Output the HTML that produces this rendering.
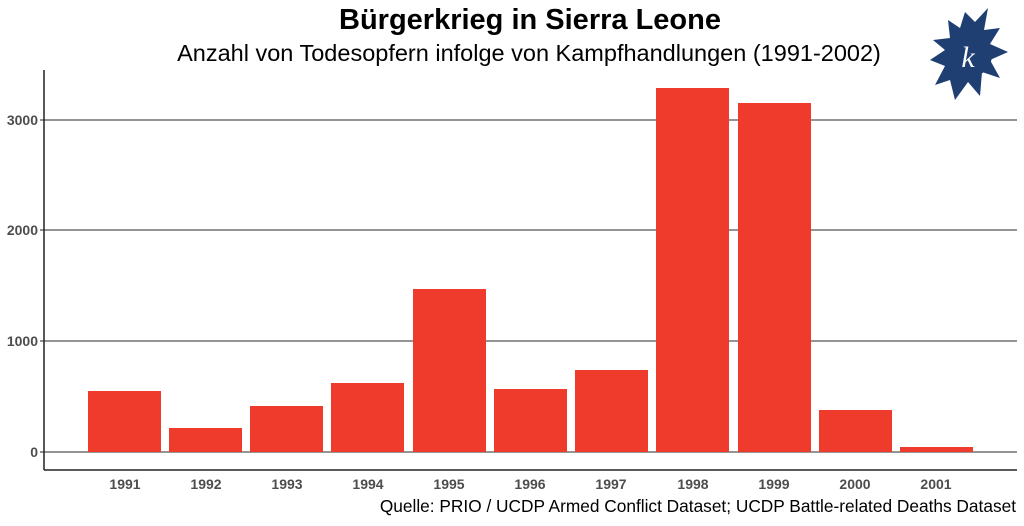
<!DOCTYPE html>
<html><head><meta charset="utf-8"><style>
body{margin:0;background:#fff;width:1024px;height:521px;overflow:hidden}
</style></head><body>
<svg width="1024" height="521" xmlns="http://www.w3.org/2000/svg" font-family="Liberation Sans, Arial, sans-serif">
<rect width="1024" height="521" fill="#fff"/>
<text x="530" y="29" text-anchor="middle" font-size="29" font-weight="bold" fill="#000">Bürgerkrieg in Sierra Leone</text>
<text x="529" y="61" text-anchor="middle" font-size="23.5" fill="#000">Anzahl von Todesopfern infolge von Kampfhandlungen (1991-2002)</text>
<g stroke="#555" stroke-width="1.3">
<line x1="44" x2="1017" y1="452" y2="452"/>
<line x1="44" x2="1017" y1="341" y2="341"/>
<line x1="44" x2="1017" y1="230" y2="230"/>
<line x1="44" x2="1017" y1="120" y2="120"/>
</g>
<g fill="#ef3b2c">
<rect x="88" y="391" width="73" height="61"/>
<rect x="169" y="428" width="73" height="24"/>
<rect x="250" y="406" width="73" height="46"/>
<rect x="331" y="383" width="73" height="69"/>
<rect x="413" y="289" width="73" height="163"/>
<rect x="494" y="389" width="73" height="63"/>
<rect x="575" y="370" width="73" height="82"/>
<rect x="656" y="88" width="73" height="364"/>
<rect x="738" y="103" width="73" height="349"/>
<rect x="819" y="410" width="73" height="42"/>
<rect x="900" y="447" width="73" height="5"/>
</g>
<g stroke="#222" stroke-width="1.5" fill="none">
<line x1="44" y1="70" x2="44" y2="470"/>
<line x1="44" y1="470" x2="1017" y2="470"/>
</g>
<g stroke="#222" stroke-width="1">
<line x1="40" x2="44" y1="452" y2="452"/><line x1="40" x2="44" y1="341" y2="341"/>
<line x1="40" x2="44" y1="230" y2="230"/><line x1="40" x2="44" y1="120" y2="120"/>
</g>
<g font-size="14" font-weight="bold" fill="#4d4d4d" text-anchor="end">
<text x="38" y="457">0</text><text x="38" y="346">1000</text><text x="38" y="235">2000</text><text x="38" y="125">3000</text>
</g>
<g font-size="14" font-weight="bold" fill="#4d4d4d" text-anchor="middle">
<text x="125" y="489">1991</text><text x="206" y="489">1992</text><text x="287" y="489">1993</text><text x="368" y="489">1994</text><text x="449" y="489">1995</text><text x="530" y="489">1996</text><text x="611" y="489">1997</text><text x="693" y="489">1998</text><text x="774" y="489">1999</text><text x="855" y="489">2000</text><text x="936" y="489">2001</text>
</g>
<text x="1016" y="512" text-anchor="end" font-size="17.3" fill="#000">Quelle: PRIO / UCDP Armed Conflict Dataset; UCDP Battle-related Deaths Dataset</text>
<g fill="#1f3f73">
<polygon points="965,12 975,22 988,8 984,30 1000,28 990,44 1008,52 990,60 1000,78 982,72 980,96 968,82 955,100 950,80 935,85 945,66 930,60 945,50 933,40 950,38 948,20 960,28"/>
<circle cx="970" cy="55" r="22"/>
</g>
<text x="968" y="67" text-anchor="middle" font-size="30" font-style="italic" font-family="Liberation Serif, serif" fill="#fff">k</text>
</svg>
</body></html>
